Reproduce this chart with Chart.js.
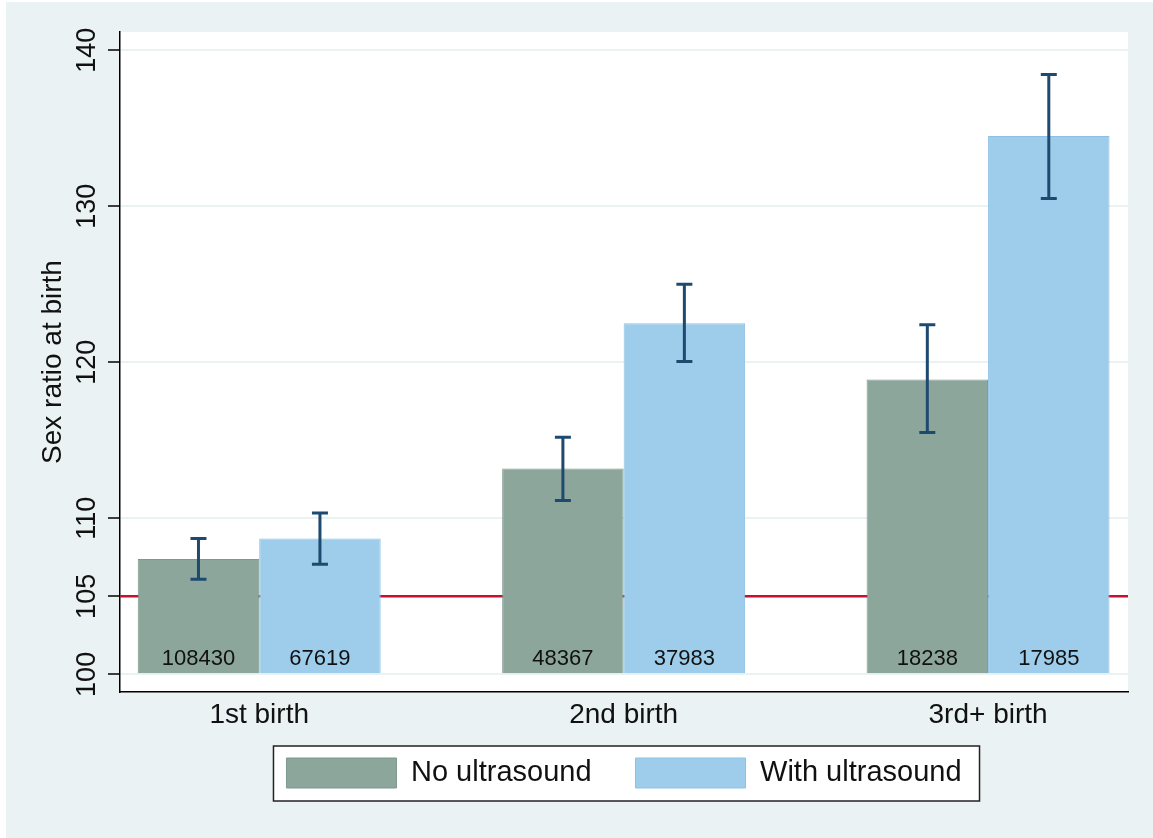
<!DOCTYPE html>
<html>
<head>
<meta charset="utf-8">
<title>Sex ratio at birth by birth order and ultrasound use</title>
<script src="https://cdn.jsdelivr.net/npm/chart.js@4.4.1/dist/chart.umd.min.js"></script>
<style>
  html, body { margin: 0; padding: 0; background: #ffffff; }
  #wrap { width: 1153px; height: 838px; }
</style>
</head>
<body>
<div id="wrap"><canvas id="chart" width="1153" height="838"></canvas></div>
<script>
// Birth-order groups
const categories = ['1st birth', '2nd birth', '3rd+ birth'];

// Sex ratio at birth (boys per 100 girls)
const noUltrasound   = [107.4, 113.2, 118.9];
const withUltrasound = [108.7, 122.5, 134.5];

// 95% confidence bounds
const noUltrasoundLow   = [106.1, 111.15, 115.5];
const noUltrasoundHigh  = [108.7, 115.2, 122.4];
const withUltrasoundLow  = [107.05, 120.05, 130.5];
const withUltrasoundHigh = [110.35, 125.0, 138.45];

// Number of births in each bar
const noUltrasoundN   = [108430, 48367, 18238];
const withUltrasoundN = [67619, 37983, 17985];

// Value axis ticks and the natural sex ratio reference
const yTicks = [100, 105, 110, 120, 130, 140];
const referenceRatio = 105;

const FONT = '"Liberation Sans", Arial, Helvetica, sans-serif';
const BG = '#EAF2F3';
const LEGEND_LIFT = 32;

function toPoints(values) {
  return values.map((v, i) => ({ x: i, y: v }));
}

const intervals = [
  { low: noUltrasoundLow, high: noUltrasoundHigh },
  { low: withUltrasoundLow, high: withUltrasoundHigh }
];
const counts = [noUltrasoundN, withUltrasoundN];

const decorations = {
  id: 'decorations',
  afterLayout(chart) {
    // tuck the legend up so its wide item spacing does not push the plot
    const lg = chart.legend;
    if (lg) {
      lg.top -= LEGEND_LIFT;
      lg.bottom -= LEGEND_LIFT;
    }
  },
  beforeDraw(chart) {
    const { ctx, chartArea, width, height } = chart;
    ctx.save();
    ctx.fillStyle = '#ffffff';
    ctx.fillRect(0, 0, width, height);
    ctx.fillStyle = BG;
    ctx.fillRect(6, 2, width - 6, height - 2);
    ctx.fillStyle = '#ffffff';
    ctx.fillRect(chartArea.left, chartArea.top, chartArea.right - chartArea.left, chartArea.bottom - chartArea.top);

    // framed legend panel
    const lg = chart.legend;
    if (lg && lg.legendHitBoxes && lg.legendHitBoxes.length) {
      const boxes = lg.legendHitBoxes;
      const first = boxes[0], last = boxes[boxes.length - 1];
      const l = first.left - 13;
      const r = last.left + last.width + 18;
      const t = first.top - 12;
      const b = first.top + 43;
      ctx.fillStyle = '#ffffff';
      ctx.fillRect(l, t, r - l, b - t);
      ctx.strokeStyle = '#222222';
      ctx.lineWidth = 1.5;
      ctx.strokeRect(l, t, r - l, b - t);
    }
    ctx.restore();
  },
  beforeDatasetsDraw(chart) {
    const { ctx, chartArea, scales } = chart;
    const y = scales.y.getPixelForValue(referenceRatio);
    ctx.save();
    ctx.strokeStyle = '#C8102E';
    ctx.lineWidth = 2.5;
    ctx.beginPath();
    ctx.moveTo(chartArea.left, y);
    ctx.lineTo(chartArea.right, y);
    ctx.stroke();
    ctx.restore();
  },
  afterDatasetsDraw(chart) {
    const { ctx, scales } = chart;
    const yScale = scales.y;
    ctx.save();
    chart.data.datasets.forEach((ds, di) => {
      const meta = chart.getDatasetMeta(di);
      meta.data.forEach((bar, i) => {
        const x = bar.x;
        const yLo = yScale.getPixelForValue(intervals[di].low[i]);
        const yHi = yScale.getPixelForValue(intervals[di].high[i]);
        const cap = 8;
        ctx.strokeStyle = '#1F4A70';
        ctx.lineWidth = 3;
        ctx.beginPath();
        ctx.moveTo(x, yLo); ctx.lineTo(x, yHi);
        ctx.moveTo(x - cap, yLo); ctx.lineTo(x + cap, yLo);
        ctx.moveTo(x - cap, yHi); ctx.lineTo(x + cap, yHi);
        ctx.stroke();

        ctx.fillStyle = '#111111';
        ctx.font = '22px ' + FONT;
        ctx.textAlign = 'center';
        ctx.textBaseline = 'alphabetic';
        ctx.fillText(String(counts[di][i]), x, yScale.getPixelForValue(100) - 9);
      });
    });
    ctx.restore();
  }
};

new Chart(document.getElementById('chart'), {
  type: 'bar',
  data: {
    datasets: [
      {
        label: 'No ultrasound',
        data: toPoints(noUltrasound),
        base: 100,
        backgroundColor: '#8CA69B',
        borderColor: '#7D998E',
        borderWidth: 1
      },
      {
        label: 'With ultrasound',
        data: toPoints(withUltrasound),
        base: 100,
        backgroundColor: '#9DCDEB',
        borderColor: '#8CC1E5',
        borderWidth: 1
      }
    ]
  },
  options: {
    responsive: false,
    animation: false,
    devicePixelRatio: 1,
    categoryPercentage: 2 / 3,
    barPercentage: 1,
    layout: { padding: { left: 0, top: 32, right: 25, bottom: 8 } },
    plugins: {
      legend: {
        position: 'bottom',
        fullSize: false,
        labels: {
          boxWidth: 110,
          boxHeight: 30,
          padding: 44,
          color: '#111111',
          font: { family: FONT, size: 29 }
        }
      },
      tooltip: { enabled: false }
    },
    scales: {
      x: {
        type: 'linear',
        offset: false,
        min: -0.382,
        max: 2.384,
        afterBuildTicks(scale) {
          scale.ticks = categories.map((c, i) => ({ value: i }));
        },
        afterFit(scale) { scale.height = 54; },
        grid: { display: false, drawTicks: false },
        border: { display: true, color: '#000000', width: 1.5 },
        ticks: {
          padding: 6,
          color: '#111111',
          font: { family: FONT, size: 28 },
          callback: (v) => categories[v]
        }
      },
      y: {
        type: 'linear',
        min: 98.87,
        max: 141.17,
        afterBuildTicks(scale) {
          scale.ticks = yTicks.map(v => ({ value: v }));
        },
        afterFit(scale) { scale.width = 120; },
        grid: {
          color: (ctx) => (ctx.tick && ctx.tick.value === referenceRatio) ? 'rgba(0,0,0,0)' : BG,
          lineWidth: 2,
          tickLength: 12,
          tickColor: '#000000',
          tickWidth: 1.5
        },
        border: { display: true, color: '#000000', width: 1.5 },
        ticks: {
          minRotation: 90,
          maxRotation: 90,
          crossAlign: 'center',
          padding: -2,
          color: '#111111',
          font: { family: FONT, size: 27 }
        },
        title: {
          display: true,
          text: 'Sex ratio at birth',
          color: '#111111',
          font: { family: FONT, size: 28 },
          padding: { top: 36, bottom: 0 }
        }
      }
    }
  },
  plugins: [decorations]
});
</script>
</body>
</html>
